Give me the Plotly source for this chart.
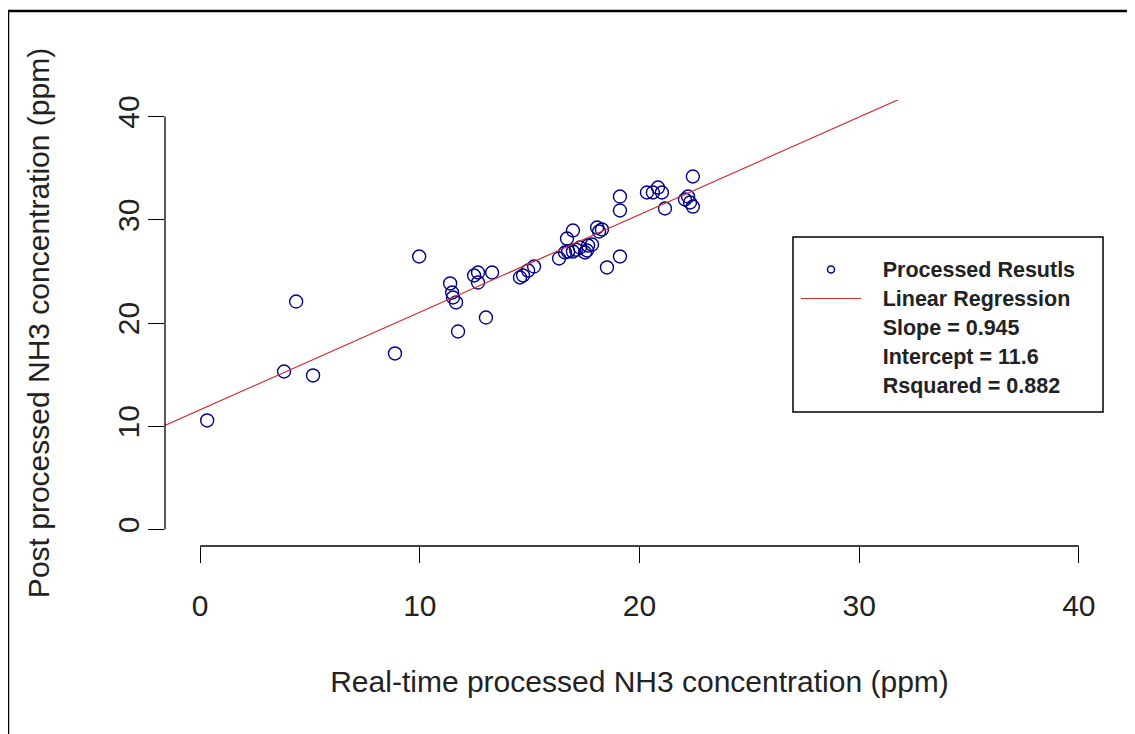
import plotly.graph_objects as go

# ---- data ----
real_time = [0.32, 3.82, 5.14, 4.37, 8.87, 9.97, 11.38, 11.47, 11.51, 11.65, 11.74,
             13.01, 12.47, 12.65, 12.65, 13.29, 14.56, 14.70, 14.93, 15.20, 16.34,
             16.70, 16.97, 16.61, 16.75, 16.97, 17.11, 17.29, 17.52, 17.61, 17.66,
             17.84, 18.07, 18.16, 18.29, 18.52, 19.11, 19.11, 19.11, 20.34, 20.61,
             20.84, 21.02, 21.16, 22.07, 22.21, 22.30, 22.43, 22.43]
post_processed = [10.56, 15.30, 14.92, 22.08, 17.05, 26.44, 23.83, 22.95, 22.47, 21.99, 19.18,
                  20.53, 24.60, 24.89, 23.92, 24.89, 24.41, 24.60, 25.08, 25.47, 26.25,
                  28.18, 28.96, 26.83, 26.92, 26.92, 27.10, 27.31, 26.83, 27.02, 27.50,
                  27.60, 29.25, 28.86, 29.06, 25.38, 32.25, 30.90, 26.44, 32.64, 32.64,
                  33.12, 32.64, 31.09, 31.96, 32.25, 31.67, 31.28, 34.19]
slope = 0.945
intercept = 11.6
rsquared = 0.882
x_ticks = [0, 10, 20, 30, 40]
y_ticks = [0, 10, 20, 30, 40]
x_range = [-1.6, 41.6]
y_range = [-1.6, 41.6]
x_title = "Real-time processed NH3 concentration (ppm)"
y_title = "Post processed NH3 concentration (ppm)"
legend_labels = ["Processed Resutls", "Linear Regression",
                 f"Slope = {slope}", f"Intercept = {intercept}", f"Rsquared = {rsquared}"]

FONT = "Liberation Sans, Arial, sans-serif"
TXT = "#222222"
PAD = "\u00a0\u00a0\u00a0"


def leg_name(label):
    return f'{PAD}<span style="font-size:21.5px"><b>{label}</b></span>'


fig = go.Figure()

fig.add_trace(go.Scatter(
    x=real_time, y=post_processed, mode="markers", showlegend=False,
    marker=dict(symbol="circle-open", size=13, color="#00008B",
                line=dict(width=1.4, color="#00008B")),
))
fig.add_trace(go.Scatter(
    x=[None], y=[None], mode="markers", name=leg_name(legend_labels[0]),
    marker=dict(symbol="circle-open", size=7, color="#00008B",
                line=dict(width=1.5, color="#00008B")),
))
line_x = list(x_range)
line_y = [intercept + slope * v for v in line_x]
fig.add_trace(go.Scatter(
    x=line_x, y=line_y, mode="lines", name=leg_name(legend_labels[1]),
    line=dict(color="#D03030", width=1.2),
))
for label in legend_labels[2:]:
    fig.add_trace(go.Scatter(
        x=[None], y=[None], mode="lines", name=leg_name(label),
        line=dict(color="rgba(0,0,0,0)", width=0),
    ))

# page has an 8px body margin; positions below are in reference-image pixels
OFF = 8
W, H = 1135 - OFF, 734 - OFF
ml, mr, mt, mb = 157, 21, 92, 188

axis_common = dict(
    showgrid=False, zeroline=False, showline=False,
    ticks="outside", ticklen=16, tickwidth=1.3, tickcolor="black",
    tickfont=dict(family=FONT, size=30, color=TXT),
    title_font=dict(family=FONT, size=30, color=TXT),
)
fig.update_xaxes(range=x_range, tickvals=x_ticks, ticklabelstandoff=17,
                 title_text=x_title, title_standoff=49, **axis_common)
fig.update_yaxes(range=y_range, tickvals=y_ticks, tickangle=-90, ticklabelstandoff=-3,
                 title_text=y_title, title_standoff=53, **axis_common)

# R-style detached axis lines spanning first..last tick
fig.add_shape(type="line", xref="x", yref="y domain", x0=x_ticks[0], x1=x_ticks[-1],
              y0=0, y1=0, line=dict(color="black", width=1.3))
fig.add_shape(type="line", xref="x domain", yref="y", x0=0, x1=0,
              y0=y_ticks[0], y1=y_ticks[-1], line=dict(color="black", width=1.3))

pw, ph = W - ml - mr, H - mt - mb
def px(xp):
    return (xp - OFF - ml) / pw
def py(yp):
    return (H - mb - (yp - OFF)) / ph

# outer image frame (left and top edges)
fig.add_shape(type="line", xref="paper", yref="paper", x0=px(8), x1=px(8),
              y0=py(11), y1=py(760), line=dict(color="black", width=2.5))
fig.add_shape(type="line", xref="paper", yref="paper", x0=px(7), x1=px(1160),
              y0=py(11), y1=py(11), line=dict(color="black", width=2.5))

# legend frame
fig.add_shape(type="rect", xref="paper", yref="paper", x0=px(793), x1=px(1103),
              y0=py(237), y1=py(412), line=dict(color="black", width=1.5),
              fillcolor="white", layer="above")

fig.update_layout(
    width=W, height=H, autosize=False,
    margin=dict(l=ml, r=mr, t=mt, b=mb, pad=0),
    paper_bgcolor="white", plot_bgcolor="white",
    font=dict(family=FONT, color=TXT),
    legend=dict(
        x=px(796), y=py(250), xanchor="left", yanchor="top",
        bgcolor="rgba(0,0,0,0)", borderwidth=0,
        font=dict(family=FONT, size=20, color=TXT),
        itemwidth=60, tracegroupgap=0,
    ),
)

fig.write_html("out.html")
